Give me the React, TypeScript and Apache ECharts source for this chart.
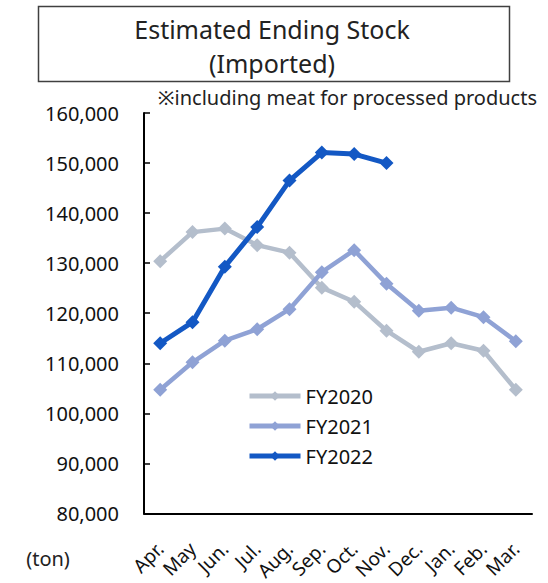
import React, { useEffect, useRef } from "react";
import * as echarts from "echarts";

const months = ["Apr.", "May", "Jun.", "Jul.", "Aug.", "Sep.", "Oct.", "Nov.", "Dec.", "Jan.", "Feb.", "Mar."];
const fy2020 = [130400, 136200, 136900, 133600, 132100, 125100, 122300, 116500, 112300, 114000, 112500, 104700];
const fy2021 = [104700, 110200, 114500, 116800, 120800, 128200, 132600, 125900, 120500, 121100, 119200, 114400];
const fy2022 = [114000, 118200, 129300, 137200, 146500, 152100, 151800, 150000];
const seriesNames = ["FY2020", "FY2021", "FY2022"];
const colors = ["#B4BECC", "#8FA2D5", "#1358C4"];

const FONT = "'Noto Sans', 'Open Sans', sans-serif";

export default function App() {
  const ref = useRef<HTMLDivElement>(null);
  useEffect(() => {
    if (!ref.current) return;
    const chart = echarts.init(ref.current, null, { renderer: "svg" });
    const datasets = [fy2020, fy2021, fy2022];
    chart.setOption({
      animation: false,
      backgroundColor: "#ffffff",
      textStyle: { fontFamily: FONT },
      grid: { left: 144, right: 16, top: 113, bottom: 68, containLabel: false },
      legend: {
        data: seriesNames,
        orient: "vertical",
        left: 242,
        top: 381,
        itemWidth: 51,
        itemHeight: 12,
        itemGap: 10,
        lineStyle: { width: 5 },
        textStyle: { fontSize: 20, color: "#111", fontFamily: FONT },
      },
      xAxis: {
        type: "category",
        data: months,
        boundaryGap: true,
        axisLine: { lineStyle: { color: "#000", width: 2 } },
        axisTick: { inside: true, length: 6, lineStyle: { color: "#000", width: 1.5 } },
        axisLabel: { rotate: 45, fontSize: 19, color: "#111", margin: 32, interval: 0, fontFamily: FONT },
      },
      yAxis: {
        type: "value",
        min: 80000,
        max: 160000,
        interval: 10000,
        splitLine: { show: false },
        axisLine: { show: true, lineStyle: { color: "#000", width: 2 } },
        axisTick: { show: true, inside: true, length: 6, lineStyle: { color: "#000", width: 1.5 } },
        axisLabel: {
          fontSize: 20,
          color: "#111",
          margin: 25,
          fontFamily: FONT,
          formatter: (v: number) => v.toLocaleString("en-US"),
        },
      },
      series: datasets.map((d, i) => ({
        name: seriesNames[i],
        type: "line",
        data: d,
        symbol: "diamond",
        symbolSize: 14,
        itemStyle: { color: colors[i] },
        lineStyle: { color: colors[i], width: i === 2 ? 5 : 4.5 },
        z: 2 + i,
      })),
      graphic: [
        {
          type: "rect",
          shape: { x: 38.5, y: 6.5, width: 471, height: 75 },
          style: { fill: "#fff", stroke: "#404040", lineWidth: 1.5 },
        },
        {
          type: "text",
          x: 272,
          y: 29,
          style: { text: "Estimated Ending Stock", fontSize: 25, fill: "#222", align: "center", verticalAlign: "middle", fontFamily: FONT },
        },
        {
          type: "text",
          x: 272,
          y: 63,
          style: { text: "(Imported)", fontSize: 25, fill: "#222", align: "center", verticalAlign: "middle", fontFamily: FONT },
        },
        {
          type: "text",
          x: 537,
          y: 97,
          style: { text: "※including meat for processed products", fontSize: 20, fill: "#222", align: "right", verticalAlign: "middle", fontFamily: FONT },
        },
        {
          type: "text",
          x: 48,
          y: 558,
          style: { text: "(ton)", fontSize: 20, fill: "#222", align: "center", verticalAlign: "middle", fontFamily: FONT },
        },
      ],
    });
    return () => chart.dispose();
  }, []);
  return <div ref={ref} style={{ position: "fixed", left: 0, top: 0, width: 548, height: 583 }} />;
}
